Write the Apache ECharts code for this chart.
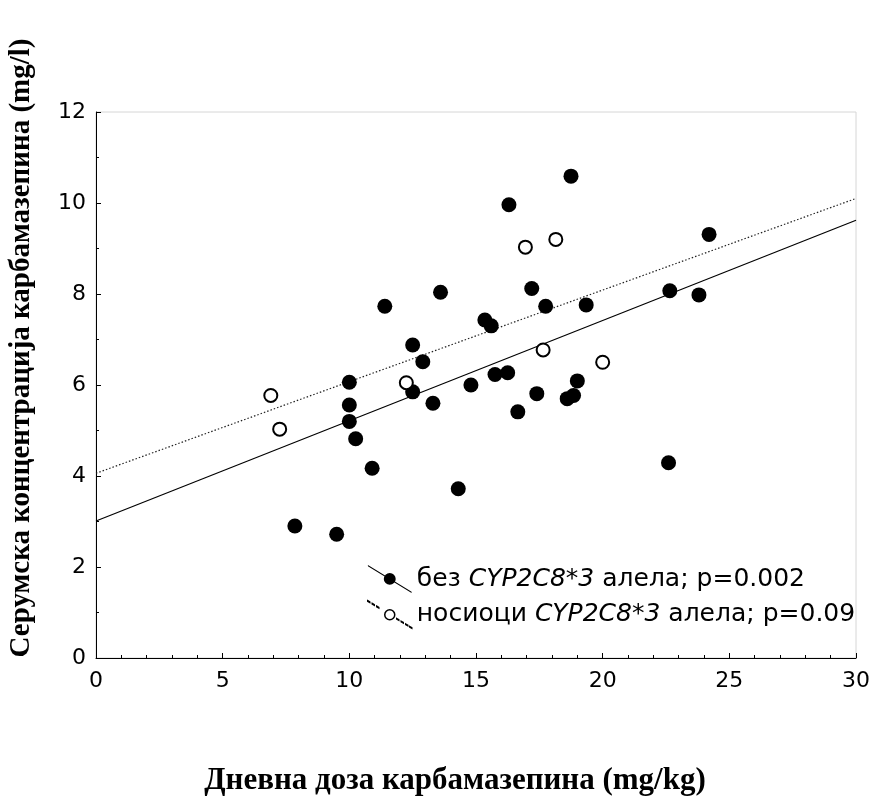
<!DOCTYPE html>
<html>
<head>
<meta charset="utf-8">
<script src="https://cdn.jsdelivr.net/npm/echarts@6/dist/echarts.min.js"></script>
<style>
  html, body { margin: 0; padding: 0; background: #fff; }
  #main { width: 873px; height: 796px; }
</style>
</head>
<body>
<div id="main"></div>
<script>
// без CYP2C8*3 алела (filled points)
var dozaBez = [7.85, 9.5, 10.0, 10.0, 10.0, 10.25, 10.9, 11.4, 12.5, 12.5, 12.9, 13.3, 13.6, 14.3, 14.8,
    15.35, 15.6, 15.75, 16.25, 16.3, 16.65, 17.2, 17.4, 17.75, 18.75, 18.6, 18.85, 19.0, 19.35,
    22.6, 22.65, 23.8, 24.2];
var koncBez = [2.9, 2.72, 6.06, 5.56, 5.2, 4.82, 4.17, 7.73, 6.88, 5.85, 6.51, 5.6, 8.04, 3.72, 6.0,
    7.43, 7.3, 6.23, 6.27, 9.96, 5.41, 8.12, 5.81, 7.73, 10.59, 5.7, 5.77, 6.09, 7.76,
    4.29, 8.07, 7.98, 9.31];

// носиоци CYP2C8*3 алела (open points)
var dozaNos = [6.9, 7.25, 12.25, 16.95, 18.15, 17.65, 20.0];
var koncNos = [5.77, 5.03, 6.05, 9.03, 9.2, 6.77, 6.5];

// regression line end points
var linijaX = [0, 30];
var linijaBez = [3.01, 9.62];
var linijaNos = [4.06, 10.1];

var imeBez = 'без CYP2C8*3 алела; p=0.002';
var imeNos = 'носиоци CYP2C8*3 алела; p=0.09';

function spoji(xs, ys) {
    var out = [];
    for (var i = 0; i < xs.length; i++) out.push([xs[i], ys[i]]);
    return out;
}

var myChart = echarts.init(document.getElementById('main'));

// legend icons: slanted line with a circle in the middle
var ikonaPuna = 'path://M0 0 L44 27 L44 28.2 L0 1.2 Z M28 14 A6 6 0 1 1 16 14 A6 6 0 1 1 28 14 Z';
var ikonaPrazna = 'path://M0 0 L2 1.2 L2 1.7 L0 0.5 Z M4.5 2.75 L6.5 3.95 L6.5 4.45 L4.5 3.25 Z ' +
    'M9 5.5 L11 6.7 L11 7.2 L9 6 Z ' +
    'M29 17.8 L31 19 L31 19.5 L29 18.3 Z M33.5 20.55 L35.5 21.75 L35.5 22.25 L33.5 21.05 Z ' +
    'M38 23.3 L40 24.5 L40 25 L38 23.8 Z M42 25.8 L44 27 L44 27.5 L42 26.3 Z ' +
    'M27 14 A5 5 0 1 1 17 14 A5 5 0 1 1 27 14 Z';

var option = {
    animation: false,
    backgroundColor: '#fff',
    grid: {
        left: 96, right: 13, top: 112, bottom: 138,
        show: true, borderColor: '#d6d6d6', borderWidth: 1
    },
    xAxis: {
        type: 'value', min: 0, max: 30, interval: 5,
        axisLine: { show: true, lineStyle: { color: '#000', width: 1 } },
        axisTick: { show: true, inside: true, length: 5, lineStyle: { color: '#000' } },
        minorTick: { show: true, splitNumber: 5, length: 3, lineStyle: { color: '#000' } },
        splitLine: { show: false },
        axisLabel: { color: '#000', fontFamily: 'DejaVu Sans', fontSize: 22, margin: 12 }
    },
    yAxis: {
        type: 'value', min: 0, max: 12, interval: 2,
        axisLine: { show: true, lineStyle: { color: '#000', width: 1 } },
        axisTick: { show: true, inside: true, length: 5, lineStyle: { color: '#000' } },
        minorTick: { show: true, splitNumber: 2, length: 3, lineStyle: { color: '#000' } },
        splitLine: { show: false },
        axisLabel: { color: '#000', fontFamily: 'DejaVu Sans', fontSize: 22, margin: 10 }
    },
    legend: {
        orient: 'vertical',
        left: 362, top: 560,
        itemWidth: 44, itemHeight: 28, itemGap: 7,
        data: [
            { name: imeBez, icon: ikonaPuna, itemStyle: { color: '#000', borderWidth: 0, opacity: 1 } },
            { name: imeNos, icon: ikonaPrazna, itemStyle: { color: '#fff', borderColor: '#000', borderWidth: 1.5, opacity: 1 } }
        ],
        formatter: function (name) {
            var delovi = name.split('CYP2C8*3');
            return '{n|' + delovi[0] + '}{i|CYP2C8*3}{n|' + delovi[1] + '}';
        },
        textStyle: {
            color: '#000', fontFamily: 'DejaVu Sans', fontSize: 25,
            rich: {
                n: { color: '#000', fontFamily: 'DejaVu Sans', fontSize: 25 },
                i: { color: '#000', fontFamily: 'DejaVu Sans', fontSize: 25, fontStyle: 'italic' }
            }
        }
    },
    graphic: [
        {
            type: 'text', x: 22, y: 348, rotation: Math.PI / 2,
            style: {
                text: 'Серумска концентрација карбамазепина (mg/l)',
                font: 'bold 29px "Liberation Serif"', fill: '#000',
                align: 'center', verticalAlign: 'middle'
            }
        },
        {
            type: 'text', x: 455, y: 781,
            style: {
                text: 'Дневна доза карбамазепина (mg/kg)',
                font: 'bold 31px "Liberation Serif"', fill: '#000',
                align: 'center', verticalAlign: 'middle'
            }
        }
    ],
    series: [
        {
            name: 'fitBez', type: 'line', silent: true, showSymbol: false, z: 2,
            data: spoji(linijaX, linijaBez),
            lineStyle: { color: '#000', width: 1.2, type: 'solid' }
        },
        {
            name: 'fitNos', type: 'line', silent: true, showSymbol: false, z: 2,
            data: spoji(linijaX, linijaNos),
            lineStyle: { color: '#222', width: 1.2, type: [1.5, 2] }
        },
        {
            name: imeBez, type: 'scatter', z: 5,
            symbol: 'circle', symbolSize: 15,
            itemStyle: { color: '#000', borderColor: '#000', borderWidth: 0, opacity: 1 },
            data: spoji(dozaBez, koncBez)
        },
        {
            name: imeNos, type: 'scatter', z: 6,
            symbol: 'circle', symbolSize: 13,
            itemStyle: { color: '#fff', borderColor: '#000', borderWidth: 2, opacity: 1 },
            data: spoji(dozaNos, koncNos)
        }
    ]
};
myChart.setOption(option);
</script>
</body>
</html>
